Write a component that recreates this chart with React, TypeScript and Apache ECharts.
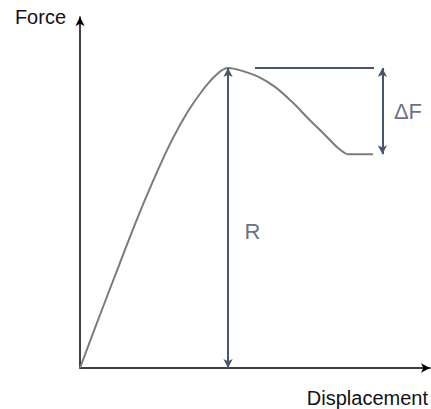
import React, { useEffect, useRef } from "react";
import * as echarts from "echarts";

// Force–displacement curve (arbitrary units 0..10)
const displacement = [0, 0.57, 1.14, 1.71, 2.2, 2.63, 3.09, 3.51, 3.89, 4.23, 4.71, 5.09, 5.57, 6.05, 6.52, 7.0, 7.38, 7.62];
const force = [0, 1.51, 2.99, 4.44, 5.58, 6.5, 7.32, 7.92, 8.35, 8.55, 8.44, 8.3, 8.01, 7.59, 7.11, 6.64, 6.26, 6.09];

// Residual plateau after the drop
const plateauX = [7.62, 8.37];
const plateauY = [6.09, 6.09];

// Annotation geometry (data units)
const peakX = 4.23;
const peakY = 8.55;
const dropY = 6.09;
const refLineStartX = 5.0;
const refLineEndX = 8.4;
const deltaArrowX = 8.64;

const annotationLabels = ["R", "ΔF"];
const annotationX = [4.93, 9.37];
const annotationY = [3.9, 7.31];

const axisNames = { x: "Displacement", y: "Force" };

export default function App() {
  const ref = useRef<HTMLDivElement>(null);
  useEffect(() => {
    if (!ref.current) return;
    const chart = echarts.init(ref.current, null, { renderer: "svg" });
    const arrowColor = "#4a566e";
    const textColor = "#3f4b63";
    const curveColor = "#7b7b7b";
    const axisCommon = {
      type: "value" as const,
      min: 0,
      max: 10,
      axisTick: { show: false },
      axisLabel: { show: false },
      splitLine: { show: false },
      axisLine: {
        show: true,
        symbol: ["none", "arrow"],
        symbolSize: [7, 9],
        lineStyle: { color: "#000", width: 1.5 },
      },
    };
    chart.setOption({
      animation: false,
      grid: { left: 80, right: 1, top: 17, bottom: 41 },
      xAxis: {
        ...axisCommon,
        name: axisNames.x,
        nameLocation: "end",
        nameGap: 0,
        nameTextStyle: {
          fontFamily: "Liberation Sans",
          fontSize: 20,
          color: "#111",
          align: "right",
          verticalAlign: "top",
          padding: [20, 2, 0, 0],
        },
      },
      yAxis: {
        ...axisCommon,
        name: axisNames.y,
        nameLocation: "end",
        nameGap: 0,
        nameTextStyle: {
          fontFamily: "Liberation Sans",
          fontSize: 20,
          color: "#111",
          align: "right",
          verticalAlign: "middle",
          padding: [0, 14, 4, 0],
        },
      },
      series: [
        {
          type: "line",
          data: displacement.map((d, i) => [d, force[i]]),
          smooth: 0.4,
          symbol: "none",
          silent: true,
          lineStyle: { color: curveColor, width: 2 },
          markLine: {
            silent: true,
            label: { show: false },
            symbol: ["arrow", "arrow"],
            symbolSize: [7, 9],
            lineStyle: { color: arrowColor, width: 2, type: "solid" },
            data: [
              [
                { coord: [peakX, 0] },
                { coord: [peakX, peakY] },
              ],
              [
                { coord: [deltaArrowX, dropY] },
                { coord: [deltaArrowX, peakY] },
              ],
              [
                { coord: [refLineStartX, peakY], symbol: "none" },
                { coord: [refLineEndX, peakY], symbol: "none" },
              ],
            ],
          },
        },
        {
          type: "line",
          data: plateauX.map((d, i) => [d, plateauY[i]]),
          symbol: "none",
          silent: true,
          lineStyle: { color: curveColor, width: 2 },
        },
        {
          type: "scatter",
          silent: true,
          symbolSize: 1,
          itemStyle: { color: "rgba(0,0,0,0)" },
          data: annotationLabels.map((t, i) => ({ name: t, value: [annotationX[i], annotationY[i]] })),
          label: {
            show: true,
            position: "inside",
            formatter: (p: any) => p.name,
            fontFamily: "Liberation Sans",
            fontSize: 22,
            color: textColor,
          },
        },
      ],
    });
    return () => chart.dispose();
  }, []);
  return (
    <div
      ref={ref}
      style={{ position: "absolute", left: 0, top: 0, width: 431, height: 409, background: "#fff" }}
    />
  );
}
